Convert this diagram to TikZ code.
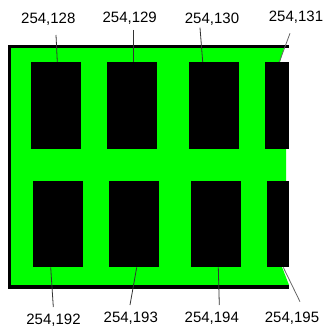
\documentclass[tikz,border=0pt]{standalone}
\usepackage{fontspec}
\setmainfont{Liberation Sans}
\usepackage{tikz}
\usetikzlibrary{positioning}
\definecolor{padgreen}{RGB}{0,255,0}

\begin{document}
\begin{tikzpicture}[x=1pt, y=-1pt,
    cell/.style={fill=black, inner sep=0pt, anchor=north west, minimum height=87pt},
    tag/.style={font=\fontsize{15}{17}\selectfont, inner sep=0pt},
    lead/.style={draw=black!80, line width=0.8pt}
  ]
  \useasboundingbox (0,0) rectangle (326,329);

  % green backing with black frame on three sides
  \fill[padgreen] (11,48) -- (284,48) -- (280,62) -- (286,149) -- (286,181)
    -- (282,267) -- (289,285) -- (11,285) -- cycle;
  \draw[line width=3.5pt] (289,46.5) -- (9.25,46.5) -- (9.25,287) -- (289,287);

  % top row of cells
  \node[cell, minimum width=50pt] (c128) at (31,62) {};
  \node[cell, minimum width=50pt] (c129) at (107,62) {};
  \node[cell, minimum width=50pt] (c130) at (189,62) {};
  \node[cell, minimum width=24pt] (c131) at (265,62) {};

  % bottom row of cells
  \node[cell, minimum width=50pt, minimum height=86pt] (c192) at (32.7,181) {};
  \node[cell, minimum width=50pt, minimum height=86pt] (c193) at (109,181) {};
  \node[cell, minimum width=50pt, minimum height=86pt] (c194) at (190.7,181) {};
  \node[cell, minimum width=22pt, minimum height=86pt] (c195) at (267,181) {};

  % labels
  \node[tag] (l128) at (48.3,19.7) {254,128};
  \node[tag] (l129) at (129.7,18) {254,129};
  \node[tag] (l130) at (212,19) {254,130};
  \node[tag] (l131) at (296,17) {254,131};
  \node[tag] (l192) at (53.5,320) {254,192};
  \node[tag] (l193) at (130.8,318) {254,193};
  \node[tag] (l194) at (211.8,318.5) {254,194};
  \node[tag] (l195) at (292,318) {254,195};

  % leader ends
  \coordinate (a128) at (56,35);
  \coordinate (a129) at (133.3,30);
  \coordinate (a130) at (200,27.7);
  \coordinate (a131) at (290,33.3);
  \coordinate (a192) at (53.3,307);
  \coordinate (a193) at (130,305);
  \coordinate (a194) at (219.3,305);
  \coordinate (a195) at (300,301.7);

  % leader lines
  \draw[lead] (a128) -- (c128.north west -| 57.3,0);
  \draw[lead] (a129) -- (c129.north west -| 133.3,0);
  \draw[lead] (a130) -- (c130.north west -| 202.7,0);
  \draw[lead, draw=black!60] (a131) -- (c131.north west -| 279.3,0);
  \draw[lead] (a192) -- (c192.south west -| 50.7,0);
  \draw[lead] (a193) -- (c193.south west -| 136.7,0);
  \draw[lead] (a194) -- (c194.south west -| 218.3,0);
  \draw[lead, draw=black!60] (a195) -- (c195.south west -| 283.3,0);
\end{tikzpicture}
\end{document}
